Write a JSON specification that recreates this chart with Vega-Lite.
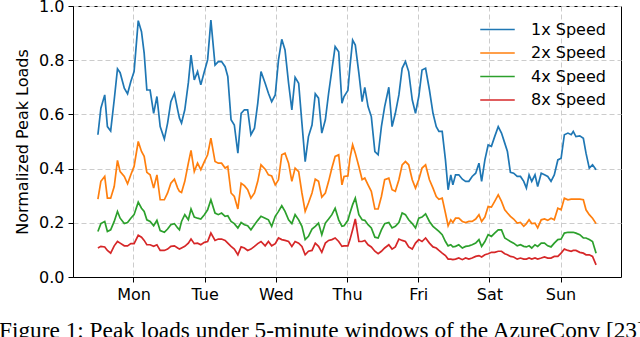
{
"$schema": "https://vega.github.io/schema/vega-lite/v6.json",
"width": 548, "height": 271,
"autosize": {"type": "none"},
"padding": {"left": 73, "top": 6, "right": 19, "bottom": 60},
"background": "white",
"title": {"text": "Figure 1: Peak loads under 5-minute windows of the AzureConv [23]", "orient": "bottom", "anchor": "start", "frame": "group", "dx": -74, "offset": 18, "font": "Liberation Serif", "fontSize": 23.3, "fontWeight": "normal", "color": "black"},
"data": {"values": [
{"h":0,"1x":0.525,"2x":0.287,"4x":0.168,"8x":0.107},
{"h":1,"1x":0.623,"2x":0.353,"4x":0.197,"8x":0.113},
{"h":2.3,"1x":0.672,"2x":0.371,"4x":0.205,"8x":0.111},
{"h":3.2,"1x":0.555,"2x":0.291,"4x":0.168,"8x":0.098},
{"h":4.3,"1x":0.539,"2x":0.291,"4x":0.174,"8x":0.088},
{"h":5.5,"1x":0.654,"2x":0.334,"4x":0.205,"8x":0.115},
{"h":6.6,"1x":0.768,"2x":0.430,"4x":0.242,"8x":0.131},
{"h":7.5,"1x":0.754,"2x":0.389,"4x":0.217,"8x":0.125},
{"h":8.9,"1x":0.697,"2x":0.371,"4x":0.197,"8x":0.115},
{"h":10,"1x":0.676,"2x":0.344,"4x":0.201,"8x":0.115},
{"h":11.1,"1x":0.721,"2x":0.377,"4x":0.217,"8x":0.123},
{"h":12.2,"1x":0.758,"2x":0.408,"4x":0.230,"8x":0.123},
{"h":13.6,"1x":0.946,"2x":0.500,"4x":0.276,"8x":0.154},
{"h":14.7,"1x":0.905,"2x":0.463,"4x":0.254,"8x":0.147},
{"h":15.6,"1x":0.826,"2x":0.445,"4x":0.242,"8x":0.135},
{"h":16.5,"1x":0.690,"2x":0.386,"4x":0.211,"8x":0.119},
{"h":17.6,"1x":0.690,"2x":0.377,"4x":0.205,"8x":0.119},
{"h":18.8,"1x":0.604,"2x":0.328,"4x":0.189,"8x":0.113},
{"h":19.9,"1x":0.666,"2x":0.377,"4x":0.209,"8x":0.119},
{"h":21,"1x":0.555,"2x":0.285,"4x":0.171,"8x":0.098},
{"h":22.4,"1x":0.509,"2x":0.285,"4x":0.165,"8x":0.098},
{"h":23.5,"1x":0.568,"2x":0.310,"4x":0.177,"8x":0.103},
{"h":24.6,"1x":0.647,"2x":0.346,"4x":0.193,"8x":0.113},
{"h":25.8,"1x":0.678,"2x":0.361,"4x":0.197,"8x":0.115},
{"h":26.9,"1x":0.617,"2x":0.328,"4x":0.181,"8x":0.107},
{"h":27.5,"1x":0.586,"2x":0.316,"4x":0.174,"8x":0.103},
{"h":28.2,"1x":0.568,"2x":0.312,"4x":0.205,"8x":0.107},
{"h":29.3,"1x":0.617,"2x":0.353,"4x":0.230,"8x":0.113},
{"h":30.5,"1x":0.717,"2x":0.420,"4x":0.211,"8x":0.125},
{"h":31.4,"1x":0.819,"2x":0.467,"4x":0.251,"8x":0.140},
{"h":32.5,"1x":0.727,"2x":0.389,"4x":0.221,"8x":0.123},
{"h":33.6,"1x":0.758,"2x":0.420,"4x":0.217,"8x":0.125},
{"h":34.7,"1x":0.709,"2x":0.396,"4x":0.214,"8x":0.119},
{"h":35.9,"1x":0.758,"2x":0.426,"4x":0.230,"8x":0.128},
{"h":37.0,"1x":0.801,"2x":0.451,"4x":0.248,"8x":0.131},
{"h":38.1,"1x":0.948,"2x":0.512,"4x":0.285,"8x":0.162},
{"h":39.5,"1x":0.782,"2x":0.426,"4x":0.236,"8x":0.135},
{"h":40.6,"1x":0.795,"2x":0.420,"4x":0.230,"8x":0.140},
{"h":41.7,"1x":0.795,"2x":0.420,"4x":0.236,"8x":0.140},
{"h":42.9,"1x":0.776,"2x":0.402,"4x":0.224,"8x":0.135},
{"h":43.8,"1x":0.740,"2x":0.408,"4x":0.226,"8x":0.125},
{"h":44.9,"1x":0.580,"2x":0.310,"4x":0.205,"8x":0.113},
{"h":46.0,"1x":0.561,"2x":0.297,"4x":0.197,"8x":0.103},
{"h":47.2,"1x":0.457,"2x":0.251,"4x":0.181,"8x":0.082},
{"h":48.3,"1x":0.604,"2x":0.346,"4x":0.201,"8x":0.111},
{"h":49.4,"1x":0.617,"2x":0.337,"4x":0.193,"8x":0.107},
{"h":50.5,"1x":0.617,"2x":0.322,"4x":0.189,"8x":0.098},
{"h":51.6,"1x":0.525,"2x":0.291,"4x":0.174,"8x":0.103},
{"h":52.8,"1x":0.549,"2x":0.310,"4x":0.193,"8x":0.113},
{"h":53.9,"1x":0.641,"2x":0.353,"4x":0.209,"8x":0.123},
{"h":55.0,"1x":0.758,"2x":0.414,"4x":0.224,"8x":0.131},
{"h":56.4,"1x":0.715,"2x":0.398,"4x":0.217,"8x":0.115},
{"h":57.5,"1x":0.678,"2x":0.377,"4x":0.211,"8x":0.131},
{"h":58.6,"1x":0.647,"2x":0.373,"4x":0.187,"8x":0.115},
{"h":59.8,"1x":0.672,"2x":0.340,"4x":0.224,"8x":0.123},
{"h":60.9,"1x":0.801,"2x":0.359,"4x":0.242,"8x":0.144},
{"h":62.0,"1x":0.877,"2x":0.451,"4x":0.263,"8x":0.138},
{"h":63.1,"1x":0.838,"2x":0.457,"4x":0.242,"8x":0.135},
{"h":64.3,"1x":0.715,"2x":0.420,"4x":0.211,"8x":0.131},
{"h":65.4,"1x":0.617,"2x":0.353,"4x":0.197,"8x":0.113},
{"h":66.5,"1x":0.737,"2x":0.402,"4x":0.230,"8x":0.131},
{"h":67.7,"1x":0.715,"2x":0.389,"4x":0.211,"8x":0.125},
{"h":68.8,"1x":0.568,"2x":0.310,"4x":0.187,"8x":0.113},
{"h":69.9,"1x":0.426,"2x":0.242,"4x":0.138,"8x":0.082},
{"h":71.0,"1x":0.518,"2x":0.273,"4x":0.150,"8x":0.095},
{"h":72.2,"1x":0.561,"2x":0.310,"4x":0.177,"8x":0.098},
{"h":73.3,"1x":0.676,"2x":0.361,"4x":0.187,"8x":0.125},
{"h":74.4,"1x":0.660,"2x":0.353,"4x":0.199,"8x":0.113},
{"h":75.5,"1x":0.531,"2x":0.295,"4x":0.156,"8x":0.091},
{"h":76.7,"1x":0.580,"2x":0.310,"4x":0.199,"8x":0.125},
{"h":77.8,"1x":0.678,"2x":0.353,"4x":0.214,"8x":0.135},
{"h":78.9,"1x":0.764,"2x":0.402,"4x":0.230,"8x":0.138},
{"h":80.0,"1x":0.850,"2x":0.445,"4x":0.254,"8x":0.144},
{"h":81.2,"1x":0.831,"2x":0.451,"4x":0.211,"8x":0.131},
{"h":82.3,"1x":0.641,"2x":0.340,"4x":0.187,"8x":0.113},
{"h":83.0,"1x":0.666,"2x":0.371,"4x":0.189,"8x":0.115},
{"h":84.3,"1x":0.688,"2x":0.373,"4x":0.209,"8x":0.115},
{"h":85.0,"1x":0.776,"2x":0.439,"4x":0.236,"8x":0.138},
{"h":85.9,"1x":0.874,"2x":0.488,"4x":0.267,"8x":0.174},
{"h":86.8,"1x":0.856,"2x":0.457,"4x":0.291,"8x":0.214},
{"h":88.0,"1x":0.752,"2x":0.408,"4x":0.230,"8x":0.131},
{"h":89.1,"1x":0.647,"2x":0.359,"4x":0.211,"8x":0.131},
{"h":90.0,"1x":0.700,"2x":0.365,"4x":0.209,"8x":0.135},
{"h":91.1,"1x":0.629,"2x":0.340,"4x":0.193,"8x":0.119},
{"h":92.2,"1x":0.592,"2x":0.316,"4x":0.181,"8x":0.111},
{"h":93.4,"1x":0.463,"2x":0.251,"4x":0.147,"8x":0.095},
{"h":94.5,"1x":0.451,"2x":0.251,"4x":0.144,"8x":0.086},
{"h":95.6,"1x":0.555,"2x":0.297,"4x":0.174,"8x":0.095},
{"h":96.7,"1x":0.629,"2x":0.359,"4x":0.197,"8x":0.107},
{"h":98.1,"1x":0.700,"2x":0.365,"4x":0.201,"8x":0.119},
{"h":99.2,"1x":0.555,"2x":0.322,"4x":0.181,"8x":0.103},
{"h":100.3,"1x":0.604,"2x":0.316,"4x":0.187,"8x":0.111},
{"h":101.5,"1x":0.672,"2x":0.359,"4x":0.201,"8x":0.140},
{"h":102.6,"1x":0.770,"2x":0.414,"4x":0.236,"8x":0.135},
{"h":103.7,"1x":0.795,"2x":0.426,"4x":0.230,"8x":0.131},
{"h":104.8,"1x":0.758,"2x":0.414,"4x":0.211,"8x":0.111},
{"h":106.0,"1x":0.654,"2x":0.359,"4x":0.197,"8x":0.103},
{"h":107.1,"1x":0.604,"2x":0.328,"4x":0.181,"8x":0.125},
{"h":108.2,"1x":0.666,"2x":0.359,"4x":0.217,"8x":0.138},
{"h":109.3,"1x":0.764,"2x":0.402,"4x":0.221,"8x":0.131},
{"h":110.5,"1x":0.770,"2x":0.414,"4x":0.233,"8x":0.144},
{"h":111.8,"1x":0.690,"2x":0.359,"4x":0.205,"8x":0.125},
{"h":113.0,"1x":0.604,"2x":0.328,"4x":0.187,"8x":0.111},
{"h":114.1,"1x":0.555,"2x":0.297,"4x":0.177,"8x":0.107},
{"h":115.0,"1x":0.537,"2x":0.287,"4x":0.168,"8x":0.098},
{"h":116.1,"1x":0.537,"2x":0.291,"4x":0.156,"8x":0.088},
{"h":117.2,"1x":0.432,"2x":0.236,"4x":0.131,"8x":0.079},
{"h":118.1,"1x":0.322,"2x":0.189,"4x":0.115,"8x":0.066},
{"h":119.0,"1x":0.377,"2x":0.211,"4x":0.119,"8x":0.066},
{"h":119.7,"1x":0.340,"2x":0.201,"4x":0.111,"8x":0.064},
{"h":120.6,"1x":0.377,"2x":0.217,"4x":0.113,"8x":0.066},
{"h":121.7,"1x":0.377,"2x":0.217,"4x":0.119,"8x":0.070},
{"h":122.9,"1x":0.361,"2x":0.205,"4x":0.107,"8x":0.064},
{"h":124.0,"1x":0.353,"2x":0.201,"4x":0.113,"8x":0.070},
{"h":125.1,"1x":0.353,"2x":0.205,"4x":0.115,"8x":0.066},
{"h":126.2,"1x":0.371,"2x":0.205,"4x":0.119,"8x":0.070},
{"h":127.4,"1x":0.383,"2x":0.214,"4x":0.125,"8x":0.076},
{"h":128.5,"1x":0.420,"2x":0.230,"4x":0.138,"8x":0.079},
{"h":129.4,"1x":0.353,"2x":0.205,"4x":0.113,"8x":0.074},
{"h":130.5,"1x":0.432,"2x":0.221,"4x":0.131,"8x":0.082},
{"h":131.6,"1x":0.487,"2x":0.260,"4x":0.156,"8x":0.086},
{"h":132.7,"1x":0.482,"2x":0.258,"4x":0.150,"8x":0.091},
{"h":133.8,"1x":0.518,"2x":0.279,"4x":0.162,"8x":0.091},
{"h":135.0,"1x":0.555,"2x":0.303,"4x":0.174,"8x":0.095},
{"h":136.1,"1x":0.531,"2x":0.279,"4x":0.174,"8x":0.095},
{"h":137.2,"1x":0.494,"2x":0.248,"4x":0.144,"8x":0.086},
{"h":138.1,"1x":0.463,"2x":0.236,"4x":0.138,"8x":0.082},
{"h":139.1,"1x":0.386,"2x":0.224,"4x":0.131,"8x":0.076},
{"h":140.2,"1x":0.383,"2x":0.214,"4x":0.125,"8x":0.074},
{"h":141.4,"1x":0.371,"2x":0.199,"4x":0.115,"8x":0.066},
{"h":142.5,"1x":0.371,"2x":0.201,"4x":0.119,"8x":0.070},
{"h":143.6,"1x":0.353,"2x":0.187,"4x":0.113,"8x":0.066},
{"h":144.5,"1x":0.328,"2x":0.197,"4x":0.111,"8x":0.066},
{"h":145.4,"1x":0.377,"2x":0.211,"4x":0.115,"8x":0.070},
{"h":146.3,"1x":0.353,"2x":0.197,"4x":0.107,"8x":0.066},
{"h":147.4,"1x":0.377,"2x":0.199,"4x":0.119,"8x":0.070},
{"h":148.3,"1x":0.334,"2x":0.181,"4x":0.113,"8x":0.066},
{"h":149.5,"1x":0.383,"2x":0.211,"4x":0.125,"8x":0.070},
{"h":150.6,"1x":0.377,"2x":0.214,"4x":0.125,"8x":0.074},
{"h":151.7,"1x":0.371,"2x":0.209,"4x":0.115,"8x":0.070},
{"h":152.8,"1x":0.353,"2x":0.217,"4x":0.111,"8x":0.070},
{"h":153.9,"1x":0.377,"2x":0.211,"4x":0.125,"8x":0.076},
{"h":155.1,"1x":0.432,"2x":0.254,"4x":0.138,"8x":0.076},
{"h":156.2,"1x":0.438,"2x":0.248,"4x":0.140,"8x":0.088},
{"h":157.3,"1x":0.525,"2x":0.291,"4x":0.162,"8x":0.103},
{"h":158.5,"1x":0.531,"2x":0.285,"4x":0.165,"8x":0.098},
{"h":159.6,"1x":0.525,"2x":0.287,"4x":0.165,"8x":0.095},
{"h":160.3,"1x":0.537,"2x":0.287,"4x":0.165,"8x":0.098},
{"h":161.2,"1x":0.518,"2x":0.287,"4x":0.162,"8x":0.098},
{"h":162.5,"1x":0.521,"2x":0.287,"4x":0.156,"8x":0.091},
{"h":163.7,"1x":0.512,"2x":0.285,"4x":0.144,"8x":0.088},
{"h":164.6,"1x":0.457,"2x":0.248,"4x":0.144,"8x":0.082},
{"h":165.7,"1x":0.402,"2x":0.230,"4x":0.138,"8x":0.082},
{"h":166.8,"1x":0.414,"2x":0.217,"4x":0.131,"8x":0.076},
{"h":168.0,"1x":0.396,"2x":0.197,"4x":0.088,"8x":0.045}
]},
"transform": [{"fold": ["1x", "2x", "4x", "8x"], "as": ["series", "load"]}],
"mark": {"type": "line", "strokeWidth": 1.7, "clip": true},
"encoding": {
  "x": {"field": "h", "type": "quantitative",
        "scale": {"domain": [-8.4, 176.4], "nice": false, "zero": false},
        "axis": {"values": [12, 36, 60, 84, 108, 132, 156], "title": null,
                 "labelExpr": "['Mon','Tue','Wed','Thu','Fri','Sat','Sun'][round((datum.value-12)/24)]"}},
  "y": {"field": "load", "type": "quantitative",
        "scale": {"domain": [0, 1], "nice": false},
        "axis": {"values": [0, 0.2, 0.4, 0.6, 0.8, 1.0], "format": ".1f", "title": "Normalized Peak Loads"}},
  "color": {"field": "series", "type": "nominal",
            "scale": {"domain": ["1x", "2x", "4x", "8x"], "range": ["#1f77b4", "#ff7f0e", "#2ca02c", "#d62728"]},
            "legend": {"title": null, "orient": "top-right", "offset": 9, "padding": 6,
                       "symbolType": "M-2.3,0H2.3", "symbolSize": 225, "symbolStrokeWidth": 1.7,
                       "labelFont": "DejaVu Sans", "labelFontSize": 16, "labelColor": "black",
                       "labelOffset": 25, "rowPadding": 6.5,
                       "labelExpr": "datum.label + ' Speed'"}}
},
"config": {
  "view": {"stroke": "black", "strokeWidth": 1},
  "axis": {"domainColor": "black", "tickColor": "black", "tickSize": 5,
           "labelFont": "DejaVu Sans", "labelFontSize": 16, "labelColor": "black", "labelPadding": 4,
           "titleFont": "DejaVu Sans", "titleFontSize": 16, "titleFontWeight": "normal", "titleColor": "black",
           "gridColor": "#cccccc", "gridDash": [5, 3], "gridWidth": 1},
  "axisY": {"titlePadding": 8},
  "axisX": {"labelFlush": false}
}
}
